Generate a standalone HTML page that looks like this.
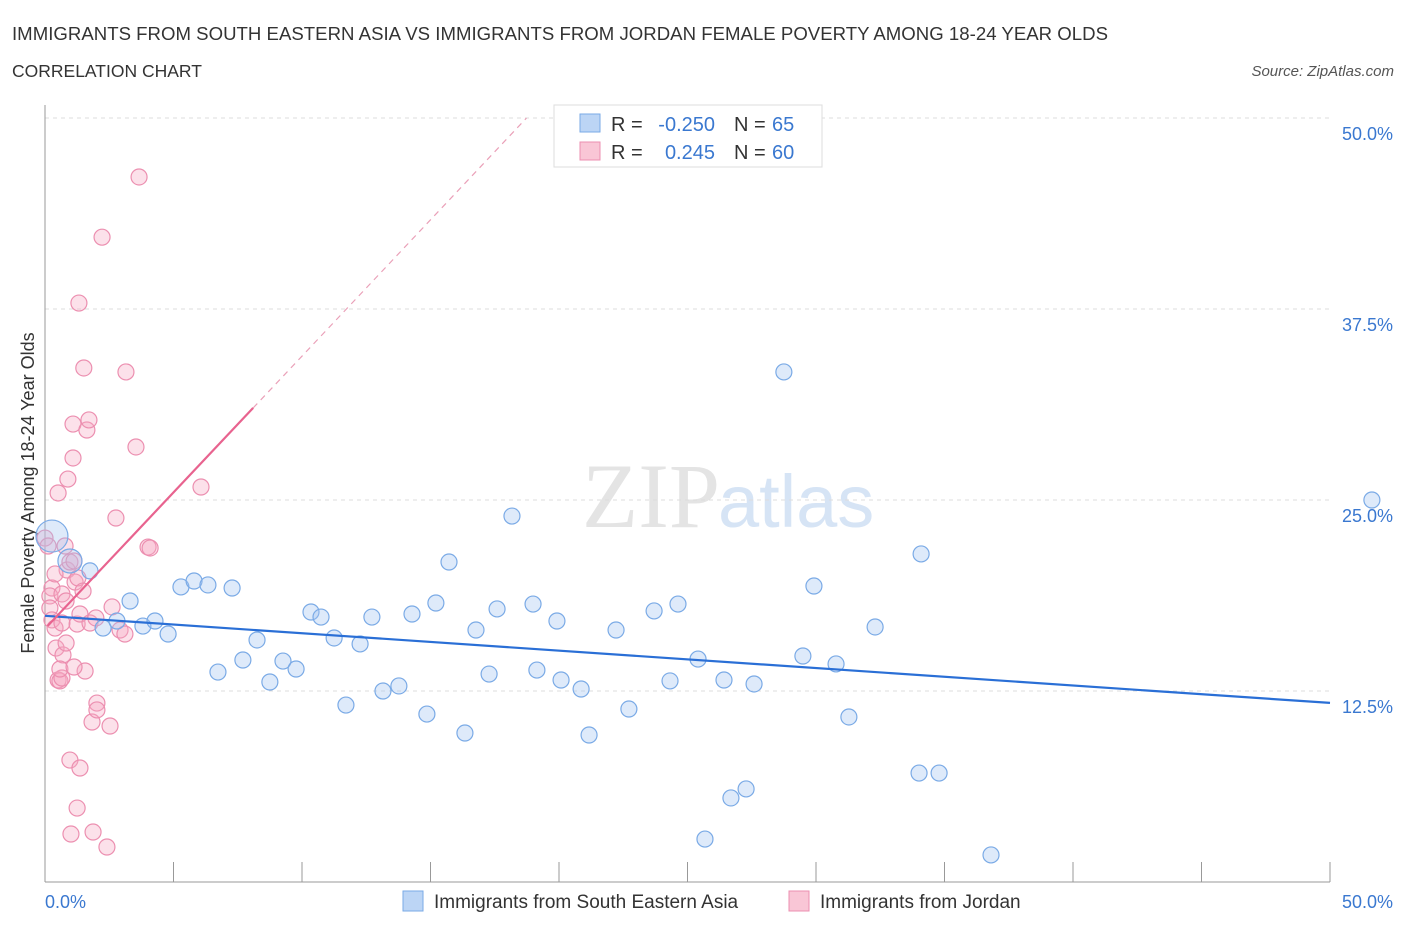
<!DOCTYPE html>
<html><head><meta charset="utf-8"><style>
body{margin:0;background:#fff;font-family:"Liberation Sans",sans-serif}
</style></head><body>
<svg id="chart" width="1406" height="930" xmlns="http://www.w3.org/2000/svg" font-family="Liberation Sans, sans-serif">
<text x="12" y="40" font-size="18.6" fill="#333" textLength="1096">IMMIGRANTS FROM SOUTH EASTERN ASIA VS IMMIGRANTS FROM JORDAN FEMALE POVERTY AMONG 18-24 YEAR OLDS</text>
<text x="12" y="77" font-size="17.5" fill="#333">CORRELATION CHART</text>
<text x="1394" y="76" font-size="15" fill="#555" text-anchor="end" font-style="italic">Source: ZipAtlas.com</text>
<text x="720" y="527" font-size="92" fill="#e4e4e4" text-anchor="end" font-family="Liberation Serif, serif">ZIP</text>
<text x="718" y="527" font-size="74" fill="#d6e4f5">atlas</text>
<text transform="translate(34,493) rotate(-90)" font-size="18" fill="#333" text-anchor="middle">Female Poverty Among 18-24 Year Olds</text>
<g id="grid"></g><g id="marks"></g>
<g>
<rect x="554" y="105" width="268" height="62" fill="#fff" stroke="#ddd"/>
<rect x="580" y="114" width="20" height="18" fill="#bcd5f5" stroke="#7aaae6"/>
<rect x="580" y="142" width="20" height="18" fill="#f9c6d6" stroke="#ec8fb0"/>
<text x="611" y="131" font-size="20" fill="#333">R =</text>
<text x="715" y="131" font-size="20" fill="#3a78d0" text-anchor="end">-0.250</text>
<text x="734" y="131" font-size="20" fill="#333">N =</text>
<text x="772" y="131" font-size="20" fill="#3a78d0">65</text>
<text x="611" y="159" font-size="20" fill="#333">R =</text>
<text x="715" y="159" font-size="20" fill="#3a78d0" text-anchor="end">0.245</text>
<text x="734" y="159" font-size="20" fill="#333">N =</text>
<text x="772" y="159" font-size="20" fill="#3a78d0">60</text>
</g>
<g>
<rect x="403" y="891" width="20" height="20" fill="#bcd5f5" stroke="#7aaae6"/>
<text x="434" y="908" font-size="19" fill="#333">Immigrants from South Eastern Asia</text>
<rect x="789" y="891" width="20" height="20" fill="#f9c6d6" stroke="#ec8fb0"/>
<text x="820" y="908" font-size="19" fill="#333">Immigrants from Jordan</text>
</g>
</svg>
<script>
const yTicks=[12.5,25,37.5,50];
const xTickLabels=["0.0%","50.0%"];
const blueX=[0.27,0.97,1.75,3.31,2.26,2.8,3.81,4.28,4.79,5.29,5.8,6.34,7.28,6.73,7.7,8.25,8.75,9.26,9.77,10.35,10.74,11.25,11.71,12.26,12.72,13.15,13.77,14.28,14.86,15.21,15.72,16.34,16.77,17.28,17.59,18.17,18.99,19.14,19.92,20.08,20.86,21.17,22.22,22.72,23.7,24.32,24.63,25.41,25.68,26.42,26.69,27.28,27.59,28.75,29.49,29.92,30.78,31.28,32.3,34.01,34.09,34.79,36.81,51.63];
const blueY=[22.64,21.01,20.36,18.39,16.62,17.08,16.75,17.08,16.23,19.31,19.7,19.44,19.24,13.74,14.53,15.84,13.09,14.46,13.94,17.67,17.34,15.97,11.58,15.58,17.34,12.5,12.83,17.54,10.99,18.26,20.94,9.75,16.49,13.61,17.87,23.95,18.19,13.87,17.08,13.22,12.63,9.62,16.49,11.32,17.74,13.16,18.19,14.59,2.81,13.22,5.5,6.09,12.96,33.38,14.79,19.37,14.27,10.8,16.69,7.13,21.47,7.13,1.77,25.0];
const blueR=[16,12];
const pinkX=[0,0.12,0.27,0.19,0.19,0.27,0.39,0.43,0.51,0.58,0.66,0.7,0.82,0.66,0.51,0.86,0.89,0.97,1.09,1.09,1.17,1.25,1.32,1.36,1.51,1.63,1.71,1.75,1.83,1.98,2.02,2.02,0.97,1.36,1.01,1.25,1.87,2.41,2.22,2.53,2.61,2.76,2.92,3.11,3.15,3.54,3.66,4.01,4.09,6.07,1.13,0.78,1.28,0.39,0.58,1.56,1.13,0.66,0.82,1.48];
const pinkY=[22.51,21.99,19.24,18.72,17.93,17.15,16.62,15.31,13.22,13.16,13.35,14.86,15.64,16.95,25.46,20.42,26.37,20.94,27.75,29.97,19.63,16.88,37.89,17.54,33.64,29.58,30.24,16.95,10.47,17.28,11.71,11.26,7.98,7.46,3.14,4.84,3.27,2.29,42.2,10.21,18.0,23.82,16.49,16.23,33.38,28.47,46.14,21.92,21.86,25.85,21.01,21.99,19.9,20.16,13.94,13.81,14.07,18.85,18.39,19.04];
const X=v=>45+v*25.7, Y=v=>882-v*15.28;
const ns="http://www.w3.org/2000/svg";
const g=document.getElementById('grid'), m=document.getElementById('marks');
function mk(tag,at,par){const e=document.createElementNS(ns,tag);for(const k in at)e.setAttribute(k,at[k]);par.appendChild(e);return e;}
yTicks.forEach(t=>{
 const l=mk('line',{x1:45,x2:1330,y1:Y(t),y2:Y(t),stroke:'#ddd','stroke-dasharray':'4,4'},g);
 
 
 const tx=mk('text',{x:1393,y:Y(t)+22,'font-size':18,fill:'#3a78d0','text-anchor':'end'},g);tx.textContent=t.toFixed(1)+'%';
 
 
});
mk('line',{x1:45,x2:45,y1:105,y2:882,stroke:'#999'},g);
mk('line',{x1:45,x2:1330,y1:882,y2:882,stroke:'#999'},g);
for(let i=0;i<=10;i++){mk('line',{x1:X(i*5),x2:X(i*5),y1:862,y2:882,stroke:'#999'},g);}
const xl0=mk('text',{x:45,y:908,'font-size':18,fill:'#3a78d0'},g);xl0.textContent=xTickLabels[0];


const xl1=mk('text',{x:1393,y:908,'font-size':18,fill:'#3a78d0','text-anchor':'end'},g);xl1.textContent=xTickLabels[1];


function fit(xs,ys){const n=xs.length;let mx=0,my=0;for(let i=0;i<n;i++){mx+=xs[i];my+=ys[i];}mx/=n;my/=n;let a=0,b=0;for(let i=0;i<n;i++){a+=(xs[i]-mx)*(ys[i]-my);b+=(xs[i]-mx)**2;}const s=a/b;return [s,my-s*mx];}
pinkX.forEach((x,i)=>{const c=mk('circle',{cx:X(x),cy:Y(pinkY[i]),r:8,fill:'rgba(245,170,195,0.35)',stroke:'#ec8fb0','stroke-width':1.2},m);
 
 });
blueX.forEach((x,i)=>{const c=mk('circle',{cx:X(x),cy:Y(blueY[i]),r:blueR[i]||8,fill:'rgba(160,196,240,0.35)',stroke:'#7aaae6','stroke-width':1.2},m);
 
 });
const bf=fit(blueX,blueY);
const bl=mk('line',{x1:X(0),y1:Y(bf[1]),x2:X(50),y2:Y(bf[1]+bf[0]*50),stroke:'#2a6fd6','stroke-width':2.2},m);


const pf=fit(pinkX,pinkY);
const pl=mk('line',{x1:X(0.1),y1:Y(pf[1]+pf[0]*0.1),x2:X(8.1),y2:Y(pf[1]+pf[0]*8.1),stroke:'#e8638f','stroke-width':2.2},m);


const xe=(50-pf[1])/pf[0];
const pd=mk('line',{x1:X(8.1),y1:Y(pf[1]+pf[0]*8.1),x2:X(xe),y2:Y(50),stroke:'#eaa0b8','stroke-width':1.2,'stroke-dasharray':'6,5'},m);


</script>
</body></html>
